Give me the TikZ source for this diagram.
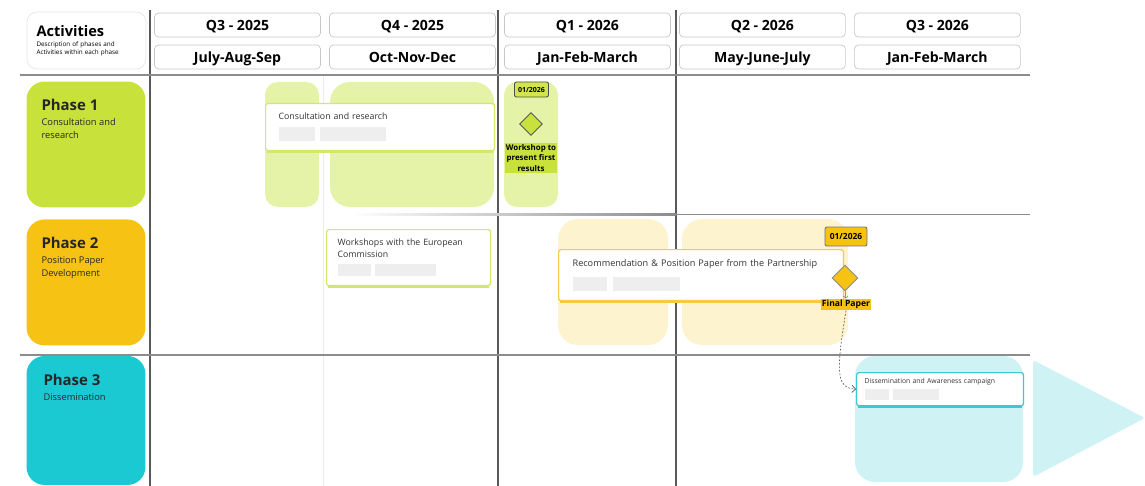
\documentclass[tikz,border=0pt]{standalone}
\usepackage{fontspec}
\setmainfont{Open Sans}
\usepackage{xcolor}
\usetikzlibrary{shapes.geometric,arrows.meta}

\definecolor{limeDark}{HTML}{C9E23B}
\definecolor{limeLight}{HTML}{E4F3A8}
\definecolor{limeEdge}{HTML}{D3E86A}
\definecolor{limeTag}{HTML}{D2E64B}
\definecolor{sunDark}{HTML}{F6C314}
\definecolor{sunLight}{HTML}{FDF3CF}
\definecolor{sunEdge}{HTML}{F3CC3F}
\definecolor{tealDark}{HTML}{1BC9D3}
\definecolor{tealLight}{HTML}{CFF3F5}
\definecolor{tealEdge}{HTML}{3CC9D0}
\definecolor{phGray}{HTML}{EEEEEE}
\definecolor{inkGray}{HTML}{333333}

\newcommand{\Ph}[2]{\textcolor{phGray}{\rule{#1}{#2}}}

\begin{document}
\begin{tikzpicture}[x=0.02cm,y=-0.02cm]
            \tikzset{Header/.style={%
                shape=rectangle,%
                draw=black!22,%
                rounded corners=0.08cm,%
                minimum width=3.32cm,%
                minimum height=0.48cm,%
                inner sep=0pt,%
                text height=5.8pt,%
                text depth=0pt,%
                font=\fontsize{8}{9}\selectfont\bfseries,%
                node distance=3.5cm,%
            }}
            \tikzset{Phase/.style={%
                shape=rectangle,%
                rounded corners=0.36cm,%
                minimum width=2.38cm,%
                minimum height=2.52cm,%
                node distance=2.76cm,%
            }}
            \tikzset{PhaseText/.style={%
                anchor=north west,%
                align=left,%
                inner sep=0pt,%
                text=black!85,%
                font=\fontsize{5.3}{7.5}\selectfont,%
            }}
            \tikzset{Card/.style={%
                shape=rectangle,%
                anchor=north west,%
                fill=white,%
                draw=#1,%
                line width=0.7pt,%
                rounded corners=0.05cm,%
                align=left,%
                text=inkGray,%
            }}
            \tikzset{Tag/.style={%
                shape=rectangle,%
                fill=#1,%
                draw=black!70,%
                line width=0.5pt,%
                rounded corners=0.04cm,%
                inner sep=0pt,%
                font=\fontsize{4}{5}\selectfont\bfseries,%
            }}
            \tikzset{Milestone/.style={%
                shape=diamond,%
                fill=#1,%
                draw=black!65,%
                line width=0.5pt,%
                inner sep=0pt,%
            }}
            \tikzset{GridLine/.style={draw=black!65, line width=0.6pt}}
            \tikzset{SoftLine/.style={draw=black!8, line width=0.5pt}}

            \useasboundingbox (0,0) rectangle (1145,486);

            % grid
            \draw[SoftLine] (323,75) -- (323,486);
            \draw[GridLine] (150,10) -- (150,486);
            \draw[GridLine] (498,10) -- (498,486);
            \draw[GridLine] (676,10) -- (676,486);
            \draw[draw=black!45, line width=0.9pt] (20,75) -- (1030,75);
            \shade[left color=white, right color=black!45] (350,213.3) rectangle (676,215.3);
            \draw[draw=black!45, line width=0.9pt] (676,214.3) -- (1030,214.3);
            \draw[draw=black!45, line width=0.9pt] (20,355) -- (1030,355);

            % bars
            \fill[limeLight, rounded corners=0.26cm] (265,82) rectangle (319,207);
            \fill[limeLight, rounded corners=0.4cm] (330,82) rectangle (494,207);
            \fill[limeLight, rounded corners=0.26cm] (504,82) rectangle (558,207);
            \fill[sunLight, rounded corners=0.4cm] (558,219) rectangle (668,345);
            \fill[sunLight, rounded corners=0.4cm] (682,219) rectangle (848,345);
            \fill[tealLight, rounded corners=0.4cm] (855,356) rectangle (1023,482);
            \fill[tealLight, rounded corners=0.06cm] (1033,360) -- (1145,418) -- (1033,477) -- cycle;

            % headers
            \node[Header, draw=black!10, rounded corners=0.2cm, minimum width=2.38cm, minimum height=1.14cm,
                  text width=2.0cm, text height=, text depth=, align=left,
                  font=\fontsize{3.6}{4.6}\selectfont] (act) at (86.5,40.5)
                {{\fontsize{8.3}{10}\selectfont\bfseries Activities}\\[1pt]Description of phases and\\Activities within each phase};
            \node[Header] (q1) at (237.5,25) {Q3 - 2025};
            \node[Header, right of=q1] (q2) {Q4 - 2025};
            \node[Header, right of=q2] (q3) {Q1 - 2026};
            \node[Header, right of=q3] (q4) {Q2 - 2026};
            \node[Header, right of=q4] (q5) {Q3 - 2026};
            \node[Header, below of=q1, node distance=0.64cm] (m1) {July-Aug-Sep};
            \node[Header, below of=q2, node distance=0.64cm] (m2) {Oct-Nov-Dec};
            \node[Header, below of=q3, node distance=0.64cm] (m3) {Jan-Feb-March};
            \node[Header, below of=q4, node distance=0.64cm] (m4) {May-June-July};
            \node[Header, below of=q5, node distance=0.64cm] (m5) {Jan-Feb-March};

            % phases
            \node[Phase, fill=limeDark] (p1) at (86,144.5) {};
            \node[Phase, fill=sunDark, below of=p1] (p2) {};
            \node[Phase, fill=tealDark, below of=p2, minimum height=2.58cm] (p3) {};
            \node[PhaseText] (p1t) at ([shift={(15,18)}]p1.north west)
                {{\fontsize{8.5}{10}\selectfont\bfseries Phase 1}\\[1pt]Consultation and\\research};
            \node[PhaseText] (p2t) at ([shift={(15,18)}]p2.north west)
                {{\fontsize{8.5}{10}\selectfont\bfseries Phase 2}\\[1pt]Position Paper\\Development};
            \node[PhaseText] (p3t) at ([shift={(17,18)}]p3.north west)
                {{\fontsize{8.5}{10}\selectfont\bfseries Phase 3}\\[1pt]Dissemination};

            % activity cards
            \node[Card=limeEdge, text width=4.06cm, inner xsep=0.26cm, minimum height=0.94cm,
                  font=\fontsize{5}{6.5}\selectfont] (c1) at (265,103)
                {Consultation and research\\[3pt]\Ph{0.72cm}{0.28cm}\hspace{0.1cm}\Ph{1.32cm}{0.28cm}};
            \node[Card=limeEdge, text width=2.84cm, inner xsep=0.22cm, minimum height=1.12cm,
                  font=\fontsize{5}{6.5}\selectfont] (c2) at (326,229)
                {Workshops with the European\\Commission\\[3pt]\Ph{0.66cm}{0.24cm}\hspace{0.08cm}\Ph{1.22cm}{0.24cm}};
            \node[Card=sunEdge, text width=5.14cm, inner xsep=0.28cm, minimum height=1.02cm,
                  font=\fontsize{5.2}{6.5}\selectfont] (c3) at (558,249)
                {Recommendation \& Position Paper from the Partnership\\[4pt]\Ph{0.68cm}{0.28cm}\hspace{0.12cm}\Ph{1.34cm}{0.28cm}};
            \node[Card=tealEdge, text width=3.02cm, inner xsep=0.16cm, minimum height=0.66cm,
                  font=\fontsize{3.9}{5}\selectfont] (c4) at (856,372)
                {Dissemination and Awareness campaign\\[1pt]\Ph{0.48cm}{0.22cm}\hspace{0.08cm}\Ph{0.92cm}{0.22cm}};
            \draw[limeEdge, line width=1.6pt] ([xshift=1pt]c1.south west) -- ([xshift=-1pt]c1.south east);
            \draw[limeEdge, line width=1.6pt] ([xshift=1pt]c2.south west) -- ([xshift=-1pt]c2.south east);
            \draw[sunEdge, line width=1.6pt] ([xshift=1pt]c3.south west) -- ([xshift=-1pt]c3.south east);
            \draw[tealEdge, line width=1.6pt] ([xshift=1pt]c4.south west) -- ([xshift=-1pt]c4.south east);

            % milestones
            \node[Tag=limeTag, minimum width=0.68cm, minimum height=0.3cm] (d1) at (531.5,89.5) {01/2026};
            \node[Milestone=limeDark, minimum size=0.46cm] (ms1) at (531,124) {};
            \node[fill=limeDark, inner sep=0.6pt, align=center,
                  font=\fontsize{4.5}{6}\selectfont\bfseries] (w1) at (531,158)
                {Workshop to\\present first\\results};
            \node[Tag=sunDark, minimum width=0.84cm, minimum height=0.38cm, draw=black!55,
                  font=\fontsize{4.8}{6}\selectfont\bfseries] (d2) at (846,236.5) {01/2026};
            \node[Milestone=sunDark, minimum size=0.52cm, draw=black!45] (ms2) at (845,278) {};
            \node[fill=sunDark, inner sep=0.8pt,
                  font=\fontsize{4.9}{6}\selectfont\bfseries] (fp) at (846,304.5) {Final Paper};

            \path (ms2) edge[-{Straight Barb[length=1.2pt,width=2.5pt]}, draw=black!60, line width=0.25pt] (fp);
            \draw[-{Straight Barb[length=2pt,width=4pt]}, draw=black!70, line width=0.35pt,
                  dash pattern=on 1pt off 1pt]
                (fp.south) .. controls (836,372) and (836,388) .. (c4.west);
        \end{tikzpicture}
\end{document}
